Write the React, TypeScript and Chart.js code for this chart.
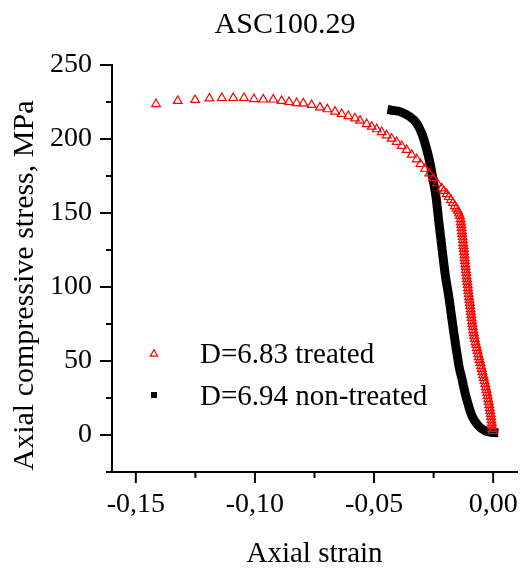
import React, { useEffect, useRef } from 'react';
import { Chart, registerables } from 'chart.js';

Chart.register(...registerables);

const chartTitle = 'ASC100.29';
const xAxisTitle = 'Axial strain';
const yAxisTitle = 'Axial compressive stress, MPa';
const treatedLabel = 'D=6.83 treated';
const nonTreatedLabel = 'D=6.94 non-treated';

const xMin = -0.16;
const xMax = 0.01;
const yMin = -25;
const yMax = 250;

const xMajorTicks = [-0.15, -0.1, -0.05, 0.0];
const xTickLabels = ['-0,15', '-0,10', '-0,05', '0,00'];
const xMinorTicks = [-0.125, -0.075, -0.025];
const yMajorTicks = [0, 50, 100, 150, 200, 250];
const yTickLabels = ['0', '50', '100', '150', '200', '250'];
const yMinorTicks = [-25, 25, 75, 125, 175, 225];

const treatedStrain = [
  -0.1415, -0.1324, -0.1251, -0.1191, -0.1139, -0.1091, -0.1046, -0.1004, -0.0965, -0.0923,
  -0.0888, -0.0857, -0.0825, -0.0797, -0.0762, -0.0727, -0.0696, -0.0664, -0.0636, -0.0608,
  -0.058, -0.0559, -0.0531, -0.051, -0.0489, -0.0468, -0.0447, -0.0426, -0.0405, -0.0384,
  -0.0363, -0.0342, -0.0321, -0.0305, -0.0286, -0.0268, -0.0252, -0.0235, -0.0216, -0.0207,
  -0.0195, -0.0186, -0.0177, -0.0169, -0.0161, -0.0154, -0.0148, -0.0144,
  -0.01397, -0.01367, -0.01355, -0.01338, -0.01326, -0.01313, -0.013, -0.01284, -0.01271, -0.01258,
  -0.01246, -0.01233, -0.01221, -0.01208, -0.01195, -0.01183, -0.0117, -0.01158, -0.01145, -0.01128,
  -0.01116, -0.01099, -0.01086, -0.0107, -0.01057, -0.0104, -0.01028, -0.01011, -0.00994, -0.00977,
  -0.00965, -0.00948, -0.00935, -0.00919, -0.00906, -0.00889, -0.00872, -0.00856, -0.00835, -0.00814,
  -0.00793, -0.00768, -0.00742, -0.00713, -0.00684, -0.00654, -0.00625, -0.00596, -0.00566, -0.00537,
  -0.00508, -0.00478, -0.00449, -0.00419, -0.0039, -0.00361, -0.00331, -0.00306, -0.00281, -0.00256,
  -0.00231, -0.00206, -0.00185, -0.00164, -0.00143, -0.00122, -0.00105, -0.00088, -0.00071, -0.00055,
  -0.00042, -0.00029, -0.00021,
];
const treatedStress = [
  223.6, 225.7, 226.4, 227.4, 227.7, 227.7, 227.7, 227.0, 226.7, 226.7,
  225.7, 225.0, 224.3, 224.1, 223.0, 221.4, 220.1, 218.5, 216.9, 215.5,
  214.0, 212.4, 210.1, 208.3, 206.6, 204.7, 202.5, 200.2, 198.0, 195.3,
  192.6, 189.4, 186.3, 183.1, 179.9, 176.8, 173.5, 170.1, 166.7, 164.9,
  162.8, 160.8, 158.8, 156.8, 154.7, 153.0, 151.4, 149.7,
  148.0, 145.9, 143.9, 141.9, 139.9, 137.8, 135.8, 133.8, 131.8, 129.7,
  127.7, 125.7, 123.7, 121.6, 119.6, 117.6, 115.5, 113.5, 111.5, 109.5,
  107.4, 105.4, 103.4, 101.4, 99.3, 97.3, 95.3, 93.2, 91.2, 89.2,
  87.2, 85.1, 83.1, 81.1, 79.1, 77.0, 75.0, 73.0, 70.9, 68.9,
  66.9, 64.9, 62.8, 60.8, 58.8, 56.8, 54.7, 52.7, 50.7, 48.7,
  46.6, 44.6, 42.6, 40.5, 38.5, 36.5, 34.5, 32.4, 30.4, 28.4,
  26.4, 24.3, 22.3, 20.3, 18.2, 16.2, 14.2, 12.2, 10.1, 8.1,
  6.1, 4.1, 2.7,
];

const nonTreatedStrain = [
  -0.0425, -0.0391, -0.035, -0.0321, -0.03, -0.0282, -0.0265, -0.0252, -0.024, -0.0228,
  -0.0214, -0.0201, -0.0186, -0.0165, -0.0143, -0.013, -0.0119, -0.0109, -0.0098, -0.0085,
  -0.0068, -0.0052, -0.0031, -0.001, 0.0003,
];
const nonTreatedStress = [
  219.4, 218.5, 215.1, 210.6, 203.9, 194.8, 183.6, 172.3, 161.0, 143.9,
  125.0, 108.1, 93.2, 68.9, 46.1, 37.2, 29.1, 23.0, 16.9, 11.5,
  7.4, 4.7, 2.7, 1.8, 1.7,
];

const FONT = 'Liberation Serif';
const RED = '#ff0000';
const BLACK = '#000000';

function findIndex(list: number[], v: number) {
  return list.findIndex((t) => Math.abs(t - v) < 1e-9);
}

const decorPlugin = {
  id: 'decor',
  afterDraw(chart: any) {
    const ctx = chart.ctx as CanvasRenderingContext2D;
    const xs = chart.scales.x;
    const ys = chart.scales.y;
    const area = chart.chartArea;
    ctx.save();
    ctx.strokeStyle = BLACK;
    ctx.lineWidth = 2;
    xs.ticks.forEach((t: any) => {
      const px = xs.getPixelForValue(t.value);
      const len = findIndex(xMajorTicks, t.value) >= 0 ? 11 : 6;
      ctx.beginPath();
      ctx.moveTo(px, area.bottom);
      ctx.lineTo(px, area.bottom + len);
      ctx.stroke();
    });
    ys.ticks.forEach((t: any) => {
      const py = ys.getPixelForValue(t.value);
      const len = findIndex(yMajorTicks, t.value) >= 0 ? 12 : 6;
      ctx.beginPath();
      ctx.moveTo(area.left, py);
      ctx.lineTo(area.left - len, py);
      ctx.stroke();
    });

    ctx.fillStyle = BLACK;
    ctx.font = `30px "${FONT}"`;
    ctx.textAlign = 'center';
    ctx.textBaseline = 'alphabetic';
    ctx.fillText(chartTitle, 285, 33);
    ctx.font = `29px "${FONT}"`;
    ctx.fillText(xAxisTitle, (area.left + area.right) / 2, 562);
    ctx.save();
    ctx.translate(33, 285.5);
    ctx.rotate(-Math.PI / 2);
    ctx.font = `30px "${FONT}"`;
    ctx.textAlign = 'center';
    ctx.fillText(yAxisTitle, 0, 0);
    ctx.restore();

    const ds = chart.data.datasets;
    ctx.font = `29px "${FONT}"`;
    ctx.textAlign = 'left';
    ctx.fillText(ds[0].label, 200, 363);
    ctx.fillText(ds[1].label, 200, 405);
    const r = 4.2;
    const cx = 154;
    const cy = 354;
    ctx.strokeStyle = RED;
    ctx.lineWidth = 1.2;
    ctx.beginPath();
    ctx.moveTo(cx, cy - r);
    ctx.lineTo(cx + r * 0.866, cy + r * 0.5);
    ctx.lineTo(cx - r * 0.866, cy + r * 0.5);
    ctx.closePath();
    ctx.stroke();
    ctx.fillStyle = BLACK;
    ctx.fillRect(151, 392, 6, 6);
    ctx.restore();
  },
};

export default function App() {
  const ref = useRef<HTMLCanvasElement | null>(null);
  useEffect(() => {
    if (!ref.current) return;
    const chart = new Chart(ref.current, {
      type: 'scatter',
      data: {
        datasets: [
          {
            label: treatedLabel,
            data: treatedStrain.map((x, i) => ({ x, y: treatedStress[i] })),
            showLine: false,
            pointStyle: 'triangle',
            pointRadius: 5,
            pointBorderColor: RED,
            pointBackgroundColor: 'rgba(0,0,0,0)',
            pointBorderWidth: 1.2,
          },
          {
            label: nonTreatedLabel,
            data: nonTreatedStrain.map((x, i) => ({ x, y: nonTreatedStress[i] })),
            showLine: true,
            borderColor: BLACK,
            borderWidth: 9,
            borderCapStyle: 'square',
            borderJoinStyle: 'round',
            tension: 0.3,
            pointRadius: 0,
          },
        ],
      },
      options: {
        responsive: false,
        animation: false,
        events: [],
        layout: { padding: { top: 65, right: 7, left: 0, bottom: 0 } },
        plugins: {
          legend: { display: false },
          tooltip: { enabled: false },
          title: { display: false },
        },
        scales: {
          x: {
            type: 'linear',
            min: xMin,
            max: xMax,
            afterBuildTicks: (s: any) => {
              s.ticks = [...xMajorTicks, ...xMinorTicks]
                .sort((a, b) => a - b)
                .map((v) => ({ value: v }));
            },
            afterFit: (s: any) => {
              s.height = 96;
              s.paddingLeft = 0;
              s.paddingRight = 0;
            },
            ticks: {
              autoSkip: false,
              maxRotation: 0,
              padding: 16,
              color: BLACK,
              font: { family: FONT, size: 28 },
              callback: (v: any) => {
                const i = findIndex(xMajorTicks, Number(v));
                return i >= 0 ? xTickLabels[i] : '';
              },
            },
            grid: { display: false, drawTicks: false },
            border: { display: true, color: BLACK, width: 2 },
          },
          y: {
            type: 'linear',
            min: yMin,
            max: yMax,
            afterBuildTicks: (s: any) => {
              s.ticks = [...yMajorTicks, ...yMinorTicks]
                .sort((a, b) => a - b)
                .map((v) => ({ value: v }));
            },
            afterFit: (s: any) => {
              s.width = 112;
              s.paddingTop = 0;
              s.paddingBottom = 0;
            },
            ticks: {
              autoSkip: false,
              padding: 20,
              color: BLACK,
              font: { family: FONT, size: 28 },
              callback: (v: any) => {
                const i = findIndex(yMajorTicks, Number(v));
                return i >= 0 ? yTickLabels[i] : '';
              },
            },
            grid: { display: false, drawTicks: false },
            border: { display: true, color: BLACK, width: 2 },
          },
        },
      },
      plugins: [decorPlugin],
    } as any);
    return () => chart.destroy();
  }, []);
  return (
    <div style={{ position: 'absolute', left: 0, top: 0, width: 524, height: 568, background: '#fff' }}>
      <canvas ref={ref} width={524} height={568} />
    </div>
  );
}
